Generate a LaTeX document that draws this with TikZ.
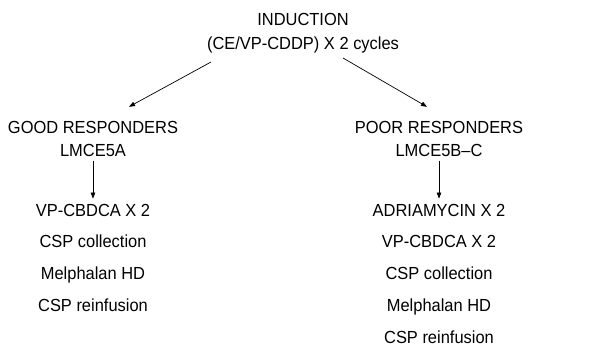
\documentclass[tikz,border=0pt]{standalone}
\usepackage{fontspec}
\setmainfont{Liberation Sans}[FakeStretch=0.94]
\usepackage{tikz}
\usetikzlibrary{arrows.meta,positioning}

\begin{document}
\begin{tikzpicture}[
  x=1pt, y=-1pt,
  node distance=19pt,
  txt/.style={inner sep=0pt, font=\fontsize{17.5}{24}\selectfont, text height=12.5pt, text depth=0pt},
  head/.style={inner sep=0pt, align=center, font=\fontsize{17.5}{24}\selectfont},
  arrow/.style={-{Triangle[length=6pt,width=4.5pt]}, line width=0.7pt}
]
\useasboundingbox (0,0) rectangle (590,346);

% Induction
\node[head, anchor=north] (induct) at (303,12.75) {INDUCTION\\(CE/VP-CDDP) X 2 cycles};

% Good responders
\node[txt] (good) at (93,127) {GOOD RESPONDERS};
\node[txt, below=10.5pt of good] (lmA) {LMCE5A};
\node[txt, below=46.5pt of lmA] (vpA) {VP-CBDCA X 2};
\node[txt, below=of vpA] (cspA) {CSP collection};
\node[txt, below=of cspA] (melA) {Melphalan HD};
\node[txt, below=of melA] (reA) {CSP reinfusion};

% Poor responders
\node[txt] (poor) at (439,127) {POOR RESPONDERS};
\node[txt, below=10.5pt of poor] (lmB) {LMCE5B--C};
\node[txt, below=46.5pt of lmB] (adrB) {ADRIAMYCIN X 2};
\node[txt, below=of adrB] (vpB) {VP-CBDCA X 2};
\node[txt, below=of vpB] (cspB) {CSP collection};
\node[txt, below=of cspB] (melB) {Melphalan HD};
\node[txt, below=of melB] (reB) {CSP reinfusion};

% Arrows
\draw[arrow] ([xshift=-92pt,yshift=-9pt]induct.south) -- ([xshift=36pt,yshift=13.75pt]good.north);
\draw[arrow] ([xshift=40pt,yshift=-5pt]induct.south) -- ([xshift=-12pt,yshift=13.75pt]poor.north);
\draw[arrow, shorten <=3.75pt, shorten >=4.75pt] (lmA.south) -- (lmA.south |- vpA.north);
\draw[arrow, shorten <=3.75pt, shorten >=4.75pt] (lmB.south) -- (lmB.south |- adrB.north);

\end{tikzpicture}
\end{document}
